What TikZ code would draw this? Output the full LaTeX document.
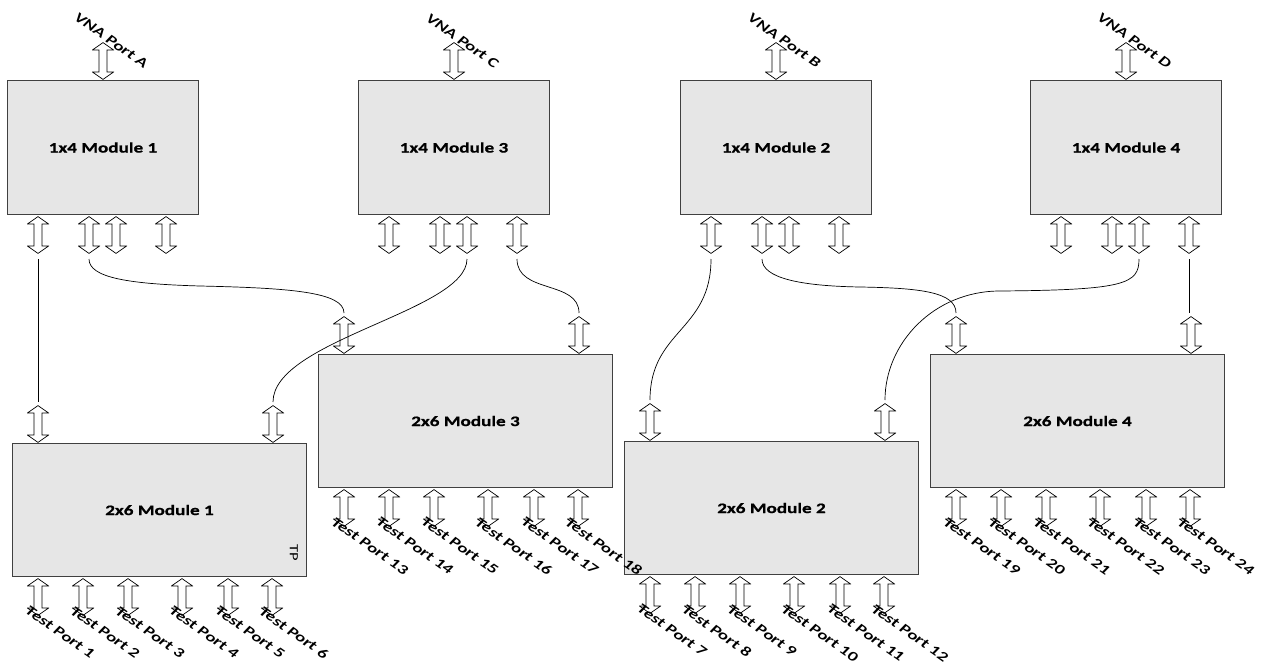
\documentclass[tikz,border=0pt]{standalone}
\usepackage{fontspec}
\usetikzlibrary{positioning,calc}
\newfontfamily\calfont[FakeStretch=1.32, BoldFeatures={FakeBold=0.8}]{Carlito}
\definecolor{relleno}{HTML}{E6E6E6}
\definecolor{borde}{HTML}{404040}

\begin{document}
\begin{tikzpicture}[x=1pt, y=-1pt, font=\calfont\fontsize{14.5}{16}\selectfont\bfseries,
      modulo/.style={draw=borde, fill=relleno, line width=1pt, anchor=north west, inner sep=0pt},
      m14/.style={modulo, minimum width=191pt, minimum height=134pt},
      m26/.style={modulo, minimum width=294pt, minimum height=133pt},
      dport/.style={minimum width=22pt, minimum height=38pt, inner sep=0pt, outer sep=0pt,
        path picture={\draw[line width=0.7pt, fill=white]
          ($(path picture bounding box.center)+(0pt,18.4pt)$) -- ++(10.6pt,-7.4pt) -- ++(-6.6pt,0pt)
          -- ++(0pt,-22pt) -- ++(6.6pt,0pt) -- ++(-10.6pt,-7.4pt) -- ++(-10.6pt,7.4pt)
          -- ++(6.6pt,0pt) -- ++(0pt,22pt) -- ++(-6.6pt,0pt) -- cycle;}},
      etiq/.style={font=\calfont\fontsize{14}{16}\selectfont\bfseries\itshape, rotate=-35, inner sep=0pt},
      cable/.style={line width=0.7pt, shorten <=5pt, shorten >=3pt}]
    \useasboundingbox (0,0) rectangle (1266,666);
    \node[m14] (sw1) at (7,80) {1x4 Module 1};
    \node[m14] (sw3) at (358,80) {1x4 Module 3};
    \node[m14] (sw2) at (680,80) {1x4 Module 2};
    \node[m14] (sw4) at (1030,80) {1x4 Module 4};
    \node[m26] (mx1) at (12,443) {2x6 Module 1};
    \node[m26] (mx3) at (318,354) {2x6 Module 3};
    \node[m26] (mx2) at (624,441) {2x6 Module 2};
    \node[m26] (mx4) at (930,354) {2x6 Module 4};
    \node[font=\calfont\fontsize{12.5}{14}\selectfont, rotate=-90] (tp) at (294,553) {TP};
    % VNA ports
    \foreach \m/\p in {1/A,3/C,2/B,4/D} {
      \node[dport, anchor=south] (in\m) at (sw\m.north) {};
      \node[etiq, anchor=south, xshift=6pt, yshift=1pt] (vna\p) at (in\m.north) {VNA Port \p};
    }
    % 1x4 outputs
    \foreach \m in {1,...,4}
      \foreach \off [count=\i] in {31,82,109,159}
        \node[dport, anchor=north] (o\m-\i) at ([xshift=\off pt, yshift=-1pt]sw\m.south west) {};
    % 2x6 inputs
    \foreach \m in {1,...,4}
      \foreach \off [count=\i] in {26,261}
        \node[dport, anchor=south] (i\m-\i) at ([xshift=\off pt]mx\m.north west) {};
    % test ports
    \foreach \m in {1,...,4}
      \foreach \off [count=\i] in {26,71,116,170,216,260} {
        \pgfmathtruncatemacro{\n}{6*(\m-1)+\i}
        \node[dport, anchor=north] (t\n) at ([xshift=\off pt, yshift=-1pt]mx\m.south west) {};
        \node[etiq, anchor=north west, xshift=-13pt, yshift=4pt] (lt\n) at (t\n.south) {Test Port \n};
      }
    % cables
    \draw[cable] (o1-1.south) -- (i1-1.north);
    \draw[cable] (o1-2.south) .. controls +(0,24) and +(-70,-2) .. (200,286)
                 .. controls +(90,2) and +(0,-24) .. (i3-1.north);
    \draw[cable] (o3-3.south) .. controls +(0,57) and +(0,-65) .. (i1-2.north);
    \draw[cable] (o3-4.south) .. controls +(0,40) and +(0,-36) .. (i3-2.north);
    \draw[cable] (o2-1.south) .. controls +(0,77) and +(0,-73) .. (i2-1.north);
    \draw[cable] (o2-2.south) .. controls +(0,24) and +(-60,-1) .. (860,287)
                 .. controls +(60,1) and +(0,-24) .. (i4-1.north);
    \draw[cable] (o4-3.south) .. controls +(0,30) and +(125,-1) .. (1000,291)
                 .. controls +(-66,0) and +(0,-60) .. (i2-2.north);
    \draw[cable] (o4-4.south) -- (o4-4.south |- i4-2.north);
  \end{tikzpicture}
\end{document}
